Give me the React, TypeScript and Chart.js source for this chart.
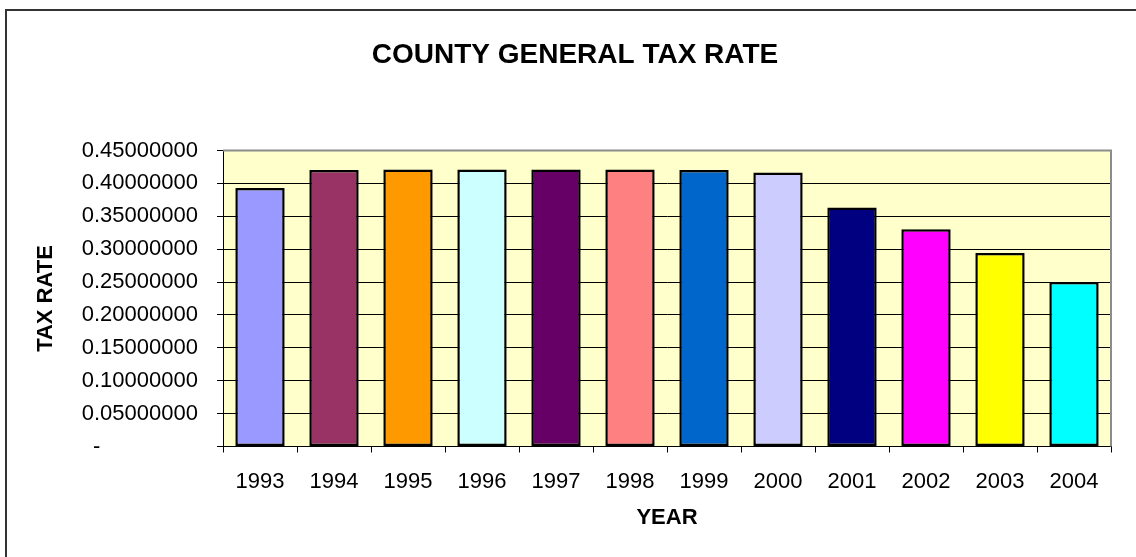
import React, { useEffect, useRef } from "react";
import { Chart, registerables } from "chart.js";

Chart.register(...registerables);

const chartTitle = "COUNTY GENERAL TAX RATE";
const xAxisTitle = "YEAR";
const yAxisTitle = "TAX RATE";

const years = ["1993", "1994", "1995", "1996", "1997", "1998", "1999", "2000", "2001", "2002", "2003", "2004"];
const taxRates = [0.393, 0.4202, 0.421, 0.421, 0.421, 0.421, 0.4202, 0.4166, 0.3634, 0.3303, 0.2942, 0.25];
const barColors = [
  "#9999FF", "#993366", "#FF9900", "#CCFFFF", "#660066", "#FF8080",
  "#0066CC", "#CCCCFF", "#000080", "#FF00FF", "#FFFF00", "#00FFFF",
];
const yTickLabels = [
  "-                ",
  "0.05000000", "0.10000000", "0.15000000", "0.20000000", "0.25000000",
  "0.30000000", "0.35000000", "0.40000000", "0.45000000",
];

const FONT = "'Liberation Sans', Arial, sans-serif";

const framePlugin = {
  id: "framePlugin",
  beforeDraw(chart: any) {
    const { ctx, chartArea } = chart;
    ctx.save();
    ctx.fillStyle = "#ffffff";
    ctx.fillRect(0, 0, chart.width, chart.height);
    ctx.strokeStyle = "#333333";
    ctx.lineWidth = 2;
    ctx.strokeRect(6, 10, 1400, 1000);
    ctx.fillStyle = "#FFFFCC";
    ctx.fillRect(chartArea.left, chartArea.top, chartArea.right - chartArea.left, chartArea.bottom - chartArea.top);
    ctx.restore();
  },
  beforeDatasetsDraw(chart: any) {
    const { ctx, chartArea } = chart;
    ctx.save();
    ctx.strokeStyle = "#8c8c8c";
    ctx.lineWidth = 2;
    ctx.beginPath();
    ctx.moveTo(chartArea.left, chartArea.top);
    ctx.lineTo(chartArea.right, chartArea.top);
    ctx.lineTo(chartArea.right, chartArea.bottom);
    ctx.stroke();
    ctx.restore();
  },
};

export default function App() {
  const canvasRef = useRef<HTMLCanvasElement | null>(null);

  useEffect(() => {
    if (!canvasRef.current) return;
    const chart = new Chart(canvasRef.current, {
      type: "bar",
      data: {
        labels: years,
        datasets: [
          {
            data: taxRates,
            backgroundColor: barColors,
            borderColor: "#000000",
            borderWidth: 2.5,
            borderSkipped: false,
            categoryPercentage: 1,
            barPercentage: 0.667,
          },
        ],
      },
      options: {
        animation: false,
        responsive: true,
        maintainAspectRatio: false,
        layout: { padding: { left: 39, right: 25, top: 0, bottom: 0 } },
        plugins: {
          legend: { display: false },
          tooltip: { enabled: false },
          title: {
            display: true,
            text: chartTitle,
            color: "#000000",
            font: { family: FONT, size: 28, weight: "bold" },
            padding: { top: 38.2, bottom: 78.7 },
          },
        },
        scales: {
          x: {
            offset: true,
            grid: {
              display: true,
              drawOnChartArea: false,
              offset: true,
              tickLength: 6,
              color: "#000000",
              lineWidth: 1,
            },
            border: { display: true, color: "#000000", width: 1 },
            ticks: {
              color: "#000000",
              font: { family: FONT, size: 22 },
              padding: 16,
              autoSkip: false,
              maxRotation: 0,
            },
            title: {
              display: true,
              text: xAxisTitle,
              color: "#000000",
              font: { family: FONT, size: 22, weight: "bold" },
              padding: { top: 0, bottom: 25.5 },
            },
            afterFit(scale: any) {
              scale.height = 110.5;
            },
          },
          y: {
            min: 0,
            max: 0.45,
            grid: {
              color: "#000000",
              lineWidth: 1,
              tickLength: 6,
            },
            border: { display: true, color: "#000000", width: 1 },
            ticks: {
              stepSize: 0.05,
              color: "#000000",
              font: { family: FONT, size: 22 },
              padding: 19,
              callback: (_v: any, i: number) => yTickLabels[i],
            },
            title: {
              display: true,
              text: yAxisTitle,
              color: "#000000",
              font: { family: FONT, size: 22, weight: "bold" },
              padding: { top: -6.2, bottom: 0 },
            },
            afterFit(scale: any) {
              scale.width = 184;
            },
          },
        },
      },
      plugins: [framePlugin],
    });
    return () => chart.destroy();
  }, []);

  return (
    <div style={{ position: "fixed", left: 0, top: 0, width: 1136, height: 557, overflow: "hidden", background: "#fff" }}>
      <canvas ref={canvasRef} />
    </div>
  );
}
